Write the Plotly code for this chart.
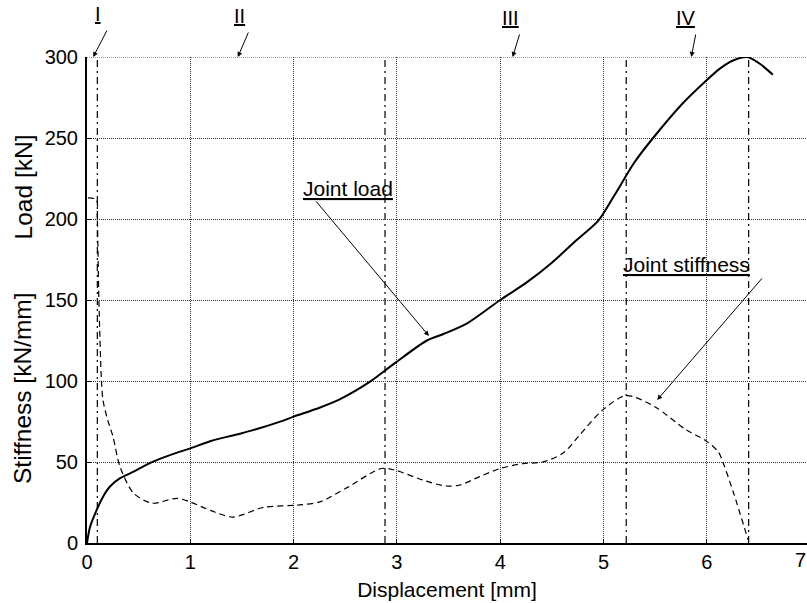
import plotly.graph_objects as go

# Joint load curve (kN) vs displacement (mm)
load_x = [0, 0.03, 0.094, 0.15, 0.22, 0.32, 0.45, 0.61, 0.75, 0.9, 1.0, 1.2, 1.45, 1.6, 1.87, 2.0,
          2.25, 2.45, 2.74, 2.98, 3.29, 3.45, 3.68, 4.0, 4.26, 4.5, 4.74, 4.95, 5.1, 5.3, 5.48, 5.77,
          5.98, 6.13, 6.26, 6.39, 6.51, 6.64]
load_y = [0, 10, 20.4, 28, 34.7, 40, 44, 49.4, 53, 56.4, 58.4, 63, 67, 69.5, 74.9, 78,
          83.5, 88.8, 99.6, 111, 125, 129, 135.6, 150, 161, 173, 187, 199, 214, 235, 250, 271.6,
          284.6, 293, 298, 300, 296, 289]

# Joint stiffness curve (kN/mm) vs displacement (mm)
stiff_x = [0.01, 0.09, 0.1, 0.115, 0.14, 0.155, 0.2, 0.25, 0.32, 0.45, 0.63, 0.87, 1.0, 1.2, 1.41,
           1.71, 2.06, 2.26, 2.51, 2.85, 2.98, 3.25, 3.47, 3.61, 3.8, 4.0, 4.22, 4.41, 4.61, 4.77,
           4.99, 5.22, 5.5, 5.8, 5.98, 6.11, 6.16, 6.26, 6.4]
stiff_y = [213, 212, 200, 150, 100, 88, 76, 66, 47, 30.8, 24.6, 27.6, 25.3, 20, 16,
           22, 23.5, 25.5, 33.9, 46, 45, 38.9, 35.2, 35.8, 41, 46, 49, 50, 55.5, 66.7,
           82, 91, 84, 69.8, 63.6, 56.4, 49.2, 30.7, 1.9]

x_ticks = [0, 1, 2, 3, 4, 5, 6]
y_ticks = [0, 50, 100, 150, 200, 250, 300]

# stage markers
stage_x = [0.1, 2.885, 5.22, 6.405]
stage_labels = ["I", "II", "III", "IV"]
stage_arrow_x = [0.06, 1.46, 4.12, 5.85]

FONT = "Liberation Sans, Arial, sans-serif"
L, W = 87, 720          # plot-area left edge and width in px
PX_PER_UNIT = 103.3


def px_to_paper(px):
    return (px - L) / W


fig = go.Figure()
fig.add_trace(go.Scatter(x=load_x, y=load_y, mode="lines",
                         line=dict(color="black", width=2, shape="spline", smoothing=0.8),
                         showlegend=False, cliponaxis=False))
fig.add_trace(go.Scatter(x=stiff_x, y=stiff_y, mode="lines",
                         line=dict(color="black", width=1.2, dash="6px,4px", shape="spline", smoothing=0.8),
                         showlegend=False))

for sx in stage_x:
    fig.add_shape(type="line", x0=sx, x1=sx, y0=0, y1=300, xref="x", yref="y",
                  line=dict(color="black", width=1.2, dash="7px,4px,2px,4px"), layer="below")

# top gridline
fig.add_shape(type="line", x0=0, x1=1, xref="paper", y0=300, y1=300, yref="y",
              line=dict(color="#333", width=1, dash="1px,1px"), layer="below")

# stage labels with arrows
label_px = [97.7, 239, 510, 686]
label_shift = [30, 28, 26, 26]
for lab, ax_x, lx, ys in zip(stage_labels, stage_arrow_x, label_px, label_shift):
    fig.add_annotation(x=px_to_paper(lx), xref="paper", xanchor="center", y=300, yref="y",
                       text="<u>" + lab + "</u>", showarrow=False,
                       yanchor="bottom", yshift=ys, font=dict(family=FONT, size=20, color="black"))
    tip_px = L + ax_x * PX_PER_UNIT
    fig.add_annotation(x=ax_x, y=300, xref="x", yref="y", text="", showarrow=True,
                       ax=(lx + 10) - tip_px, ay=-(ys - 2), arrowhead=2, arrowsize=1, arrowwidth=1,
                       arrowcolor="black", standoff=0)

# Joint load annotation
fig.add_annotation(x=3.31, y=127.8, xref="x", yref="y", text="", showarrow=True,
                   ax=-114, ay=-136, arrowhead=2, arrowsize=1, arrowwidth=1, arrowcolor="black")
fig.add_annotation(x=px_to_paper(348), xref="paper", xanchor="center", y=(543 - 188) * 300 / 486,
                   yref="y", text="<u>Joint load</u>", showarrow=False,
                   font=dict(family=FONT, size=21, color="black"))
# Joint stiffness annotation
fig.add_annotation(x=5.52, y=88.3, xref="x", yref="y", text="", showarrow=True,
                   ax=106, ay=-123, arrowhead=2, arrowsize=1, arrowwidth=1, arrowcolor="black")
fig.add_annotation(x=px_to_paper(686), xref="paper", xanchor="center", y=(543 - 264) * 300 / 486,
                   yref="y", text="<u>Joint stiffness</u>", showarrow=False,
                   font=dict(family=FONT, size=21, color="black"))

# y-axis titles
fig.add_annotation(x=px_to_paper(23), xref="paper", xanchor="center", y=219.5, yref="y",
                   text="Load [kN]", textangle=-90, showarrow=False,
                   font=dict(family=FONT, size=24.5, color="black"))
fig.add_annotation(x=px_to_paper(23), xref="paper", xanchor="center", y=95.7, yref="y",
                   text="Stiffness [kN/mm]", textangle=-90, showarrow=False,
                   font=dict(family=FONT, size=24.5, color="black"))

# tick label 7 at the right edge
fig.add_annotation(x=px_to_paper(800), xref="paper", xanchor="center", y=0, yref="paper",
                   yanchor="top", text="7", showarrow=False, yshift=-4,
                   font=dict(family=FONT, size=20, color="black"))

grid = dict(showgrid=True, gridcolor="#333", griddash="1px,1px", gridwidth=1)
fig.update_xaxes(range=[0, W / PX_PER_UNIT], tickvals=x_ticks, showline=True, linecolor="black",
                 linewidth=2, ticks="inside", ticklen=4, tickcolor="black", zeroline=False,
                 title=dict(text="Displacement [mm]", standoff=10,
                            font=dict(family=FONT, size=21, color="black")),
                 tickfont=dict(family=FONT, size=20, color="black"), **grid)
fig.update_yaxes(range=[0, 300], tickvals=y_ticks, showline=True, linecolor="black",
                 linewidth=2, ticks="inside", ticklen=4, tickcolor="black", zeroline=False,
                 ticklabelstandoff=3,
                 tickfont=dict(family=FONT, size=20, color="black"), **grid)

fig.update_layout(width=807, height=603, margin=dict(l=L, r=0, t=57, b=60),
                  plot_bgcolor="white", paper_bgcolor="white",
                  font=dict(family=FONT, color="black"))

fig.write_html("out.html")
